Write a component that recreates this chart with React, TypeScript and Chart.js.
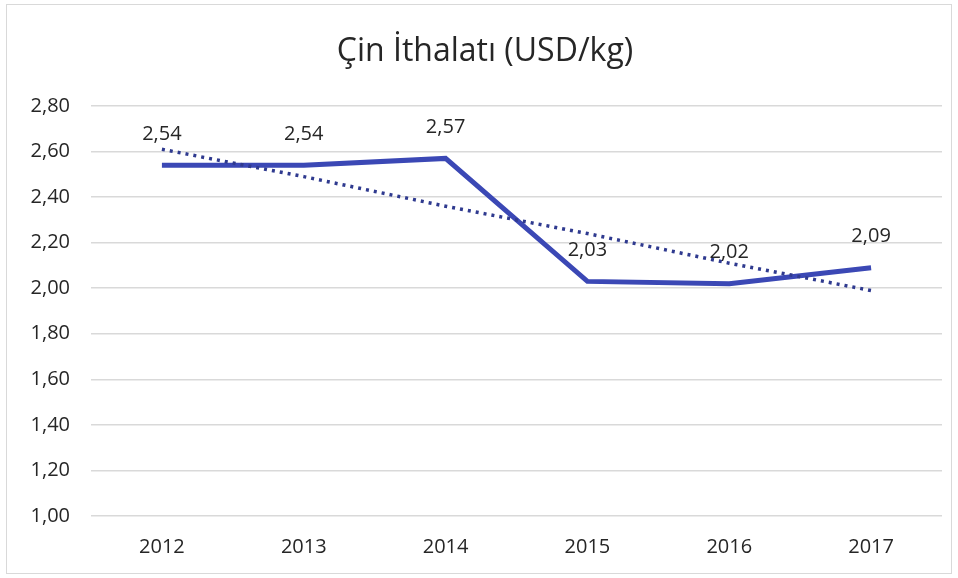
import React, { useEffect, useRef } from "react";
import { Chart, registerables } from "chart.js";

Chart.register(...registerables);

const years = ["2012", "2013", "2014", "2015", "2016", "2017"];
const priceValues = [2.54, 2.54, 2.57, 2.03, 2.02, 2.09];
const trendValues = [2.61, 2.49, 2.36, 2.24, 2.11, 1.99];
const chartTitle = "Çin İthalatı (USD/kg)";
const yMin = 1.0;
const yMax = 2.8;
const yStep = 0.2;

const FONT = "'Open Sans', 'Noto Sans', sans-serif";
const TEXT = "#262626";

const fmt = (v: number) => v.toFixed(2).replace(".", ",");

const framePlugin = {
  id: "frame",
  beforeDraw(chart: any) {
    const ctx = chart.ctx;
    ctx.save();
    ctx.fillStyle = "#ffffff";
    ctx.fillRect(0, 0, chart.width, chart.height);
    ctx.strokeStyle = "#d9d9d9";
    ctx.lineWidth = 1;
    ctx.strokeRect(6.5, 4.5, chart.width - 13, chart.height - 9);
    // title
    ctx.fillStyle = TEXT;
    ctx.font = `32px ${FONT}`;
    ctx.textAlign = "center";
    ctx.textBaseline = "alphabetic";
    ctx.fillText(chartTitle, 485, 61);
    ctx.restore();
  },
};

const labelPlugin = {
  id: "pointLabels",
  afterDatasetsDraw(chart: any) {
    const ctx = chart.ctx;
    const meta = chart.getDatasetMeta(0);
    const data = chart.data.datasets[0].data as number[];
    ctx.save();
    ctx.font = `20px ${FONT}`;
    ctx.fillStyle = TEXT;
    ctx.textAlign = "center";
    ctx.textBaseline = "middle";
    meta.data.forEach((pt: any, i: number) => {
      ctx.fillText(fmt(data[i]), pt.x, pt.y - 31);
    });
    ctx.restore();
  },
};

export default function App() {
  const ref = useRef<HTMLCanvasElement | null>(null);
  useEffect(() => {
    document.body.style.margin = "0";
    const canvas = ref.current!;
    const chart = new Chart(canvas, {
      type: "line",
      data: {
        labels: years,
        datasets: [
          {
            label: "Çin İthalatı",
            data: priceValues,
            borderColor: "#3B48B5",
            borderWidth: 5,
            pointRadius: 0,
            tension: 0,
            fill: false,
            order: 1,
          },
          {
            label: "Doğrusal",
            data: trendValues,
            borderColor: "#2F3A8F",
            borderWidth: 3.5,
            borderDash: [3, 5],
            pointRadius: 0,
            tension: 0,
            fill: false,
            order: 0,
          },
        ],
      },
      options: {
        responsive: false,
        animation: false,
        layout: { padding: { left: 10, right: 16, top: 106, bottom: 0 } },
        plugins: {
          legend: { display: false },
          tooltip: { enabled: false },
          title: { display: false },
        },
        scales: {
          x: {
            offset: true,
            grid: { display: false, drawTicks: false },
            border: { display: false },
            ticks: { color: TEXT, font: { family: FONT, size: 20, lineHeight: 1.0 }, padding: 21 },
          },
          y: {
            min: yMin,
            max: yMax,
            afterFit: (scale: any) => {
              scale.width = 81;
            },
            grid: { color: "#d9d9d9", lineWidth: 1.5, drawTicks: false },
            border: { display: false },
            ticks: {
              stepSize: yStep,
              color: TEXT,
              font: { family: FONT, size: 20 },
              padding: 21,
              callback: (v: any) => fmt(Number(v)),
            },
          },
        },
      },
      plugins: [framePlugin, labelPlugin],
    });
    return () => chart.destroy();
  }, []);
  return <canvas ref={ref} width={958} height={578} style={{ display: "block" }} />;
}
